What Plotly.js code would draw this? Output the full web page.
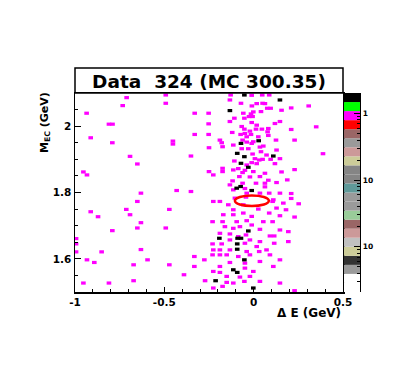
<!DOCTYPE html>
<html>
<head>
<meta charset="utf-8">
<script src="https://cdn.plot.ly/plotly-3.0.1.min.js"></script>
<style>html,body{margin:0;padding:0;background:#fff}</style>
</head>
<body>
<div id="chart" style="width:415px;height:388px"></div>
<script>
// bins with one entry (magenta): Delta E (GeV), M_EC (GeV)
const deltaE1 = [
  -0.711, -0.492, -0.492, -0.733, -0.935, -0.81, -0.79, -0.912, -0.791, -0.452,
  -0.452, -0.692, -0.651, -0.953, -0.933, -0.631, -0.431, -0.651, -0.912, -0.871,
  -0.713, -0.692, -0.472, -0.631, -0.651, -0.492, -0.791, -0.994, -0.994, -0.994,
  -0.851, -0.631, -0.933, -0.892, -0.672, -0.594, -0.472, -0.953, -0.81, -0.672,
  -0.129, 0.048, 0.087, -0.133, -0.071, -0.01, 0.05, 0.095, 0.076, -0.33,
  -0.252, -0.058, -0.015, 0.041, -0.026, -0.006, -0.252, -0.133, -0.108, -0.052,
  -0.011, 0.147, -0.067, -0.052, 0.013, 0.046, 0.078, -0.33, -0.252, -0.12,
  -0.073, -0.015, 0.026, -0.039, -0.189, -0.179, -0.062, -0.002, 0.125, -0.25,
  -0.174, -0.114, -0.011, 0.054, 0.128, -0.351, -0.006, 0.041, 0.072, 0.095,
  -0.108, -0.174, -0.174, -0.25, -0.226, -0.039, -0.011, 0.031, 0.05, -0.114,
  -0.062, -0.002, 0.063, 0.035, -0.08, -0.118, -0.062, -0.133, 0.013, 0.063,
  0.128, 0.188, -0.351, -0.114, -0.039, 0.035, 0.087, 0.147, -0.226, -0.189,
  -0.105, -0.043, 0.106, 0.166, -0.142, -0.114, -0.058, 0.026, 0.11, 0.128,
  0.181, -0.17, -0.114, -0.058, -0.011, 0.087, 0.147, -0.23, -0.174, -0.095,
  -0.039, 0.054, 0.106, -0.161, -0.114, -0.077, -0.011, 0.035, 0.147, -0.189,
  -0.133, -0.086, -0.043, 0.091, 0.115, 0.194, -0.133, -0.021, 0.035, 0.115,
  -0.23, -0.179, -0.049, 0.017, 0.194, -0.226, -0.189, -0.133, -0.039, 0.031,
  0.072, -0.23, -0.189, -0.151, -0.086, -0.021, 0.091, -0.332, -0.276, -0.133,
  -0.049, 0.035, 0.147, -0.332, -0.189, -0.226, -0.049, -0.002, 0.11, -0.39,
  -0.189, -0.151, -0.077, -0.021, -0.272, -0.151, -0.114, -0.052, 0.035, 0.147,
  -0.174, -0.226,
  0.21, 0.308, 0.35, 0.21, 0.229, 0.388, 0.229, 0.21, 0.21, 0.252,
  0.229, 0.229,
  -0.011, 0.017, 0.063, -0.002, 0.156, 0.017, -0.021, 0.082, 0.119, -0.049,
  -0.039, 0.082, -0.067, -0.03, 0.035, 0.007, 0.147, 0.017, -0.086, -0.049,
  0.119, -0.021, 0.082, 0.156, -0.049, 0.063
];
const mbc1 = [
  2.086, 2.094, 2.069, 2.062, 2.039, 2.006, 2.006, 1.965, 1.95, 1.955,
  1.946, 1.909, 1.886, 1.862, 1.853, 1.798, 1.806, 1.773, 1.742, 1.727,
  1.749, 1.733, 1.749, 1.709, 1.693, 1.693, 1.685, 1.661, 1.645, 1.621,
  1.621, 1.628, 1.597, 1.589, 1.582, 1.597, 1.582, 1.527, 1.527, 1.534,
  2.094, 2.094, 2.094, 2.079, 2.069, 2.061, 2.069, 2.054, 2.054, 2.039,
  2.039, 2.039, 2.037, 2.044, 2.029, 2.029, 2.007, 2.014, 2.024, 2.024,
  2.011, 2.014, 1.999, 1.991, 1.991, 1.991, 1.983, 1.975, 1.975, 1.981,
  1.975, 1.975, 1.968, 1.968, 1.958, 1.95, 1.958, 1.953, 1.958, 1.935,
  1.938, 1.943, 1.948, 1.94, 1.928, 1.91, 1.916, 1.923, 1.913, 1.9,
  1.895, 1.873, 1.863, 1.863, 1.853, 1.883, 1.89, 1.898, 1.9, 1.868,
  1.86, 1.863, 1.858, 1.848, 1.848, 1.835, 1.828, 1.823, 1.828, 1.828,
  1.83, 1.838, 1.803, 1.808, 1.798, 1.798, 1.798, 1.798, 1.773, 1.773,
  1.783, 1.786, 1.773, 1.768, 1.763, 1.748, 1.763, 1.75, 1.778, 1.753,
  1.748, 1.733, 1.733, 1.738, 1.728, 1.738, 1.73, 1.712, 1.712, 1.712,
  1.715, 1.712, 1.712, 1.697, 1.692, 1.697, 1.702, 1.689, 1.687, 1.677,
  1.675, 1.667, 1.672, 1.669, 1.669, 1.682, 1.657, 1.657, 1.652, 1.647,
  1.645, 1.645, 1.647, 1.637, 1.652, 1.627, 1.627, 1.627, 1.622, 1.622,
  1.627, 1.612, 1.612, 1.612, 1.607, 1.612, 1.612, 1.607, 1.597, 1.589,
  1.587, 1.592, 1.597, 1.577, 1.577, 1.562, 1.572, 1.562, 1.577, 1.552,
  1.559, 1.547, 1.545, 1.547, 1.534, 1.529, 1.527, 1.532, 1.532, 1.527,
  1.517, 1.512,
  2.055, 2.061, 1.998, 1.99, 1.958, 1.917, 1.869, 1.797, 1.782, 1.766,
  1.726, 1.504,
  2.093, 2.068, 2.068, 2.043, 2.048, 2.003, 1.985, 1.993, 2.008, 1.978,
  1.952, 1.972, 1.932, 1.932, 1.937, 1.902, 1.902, 1.887, 1.872, 1.867,
  1.887, 1.847, 1.837, 1.862, 1.812, 1.817
];

// bins with more entries (black)
const deltaE2 = [
  -0.052, 0.147, -0.133, 0.028, -0.071, -0.092, -0.052, 0.11, -0.071, -0.03,
  -0.095, -0.073, -0.011, -0.03, -0.192, -0.09, -0.071, -0.092, -0.092, -0.052,
  -0.114, -0.092, -0.213, -0.002
];
const mbc2 = [
  2.094, 2.079, 2.047, 1.956, 1.948, 1.918, 1.908, 1.91, 1.888, 1.876,
  1.813, 1.818, 1.806, 1.684, 1.662, 1.662, 1.662, 1.645, 1.629, 1.597,
  1.567, 1.559, 1.534, 1.512
];

// signal box drawn as an ellipse
const sigDE = [-0.105, 0.085];
const sigMbc = [1.759, 1.791];

const xTickVals = [-1, -0.5, 0, 0.5];
const xTickText = ['-1', '-0.5', '0', '0.5'];
const yTickVals = [1.6, 1.8, 2];
const yTickText = ['1.6', '1.8', '2'];

// z palette, top to bottom, and its (log) labels
const zPalette = [
  '#000000', '#00ff00', '#ff00ff', '#ff0000', '#9a6666', '#9a9a9a', '#cc9999', '#cccc99',
  '#858585', '#858585', '#5f9999', '#9a9a9a', '#9a9a9a', '#99cc99', '#9a6666', '#cc9999',
  '#c0c0c0', '#cccc99', '#333333', '#9a9a9a', '#ffffff', '#ffffff'
];
const zTickVals = [0.01, 0.1, 1];
const zTickText = ['10', '10', '1'];
const zRange = [-2.679, 0.308];   // log10 units

const boldFont = 'DejaVu Sans';
const plotW = 285, plotH = 199;   // px of the plotting area (incl. z bar)
const mainFrac = 268 / plotW;

// colour bar segments (bottom to top)
const segs = zPalette.slice().reverse();
const step = (zRange[1] - zRange[0]) / segs.length;
const zMinor = [];
for (let d = -3; d <= 0; d++) {
  for (let k = 2; k <= 9; k++) {
    const v = Math.log10(k * Math.pow(10, d));
    if (v > zRange[0] && v < zRange[1]) zMinor.push(v);
  }
}

const traces = [
  {
    x: deltaE1, y: mbc1, type: 'scatter', mode: 'markers', hoverinfo: 'skip',
    marker: { symbol: 'line-ew', size: 3.3, color: '#ff00ff', line: { color: '#ff00ff', width: 3.2 } }
  },
  {
    x: deltaE2, y: mbc2, type: 'scatter', mode: 'markers', hoverinfo: 'skip',
    marker: { symbol: 'line-ew', size: 3.3, color: '#000000', line: { color: '#000000', width: 3.2 } }
  },
  {
    x: segs.map(() => 0.5), y: segs.map(() => step), base: segs.map((c, i) => zRange[0] + i * step),
    width: 1, type: 'bar', marker: { color: segs, line: { width: 0 } },
    xaxis: 'x2', yaxis: 'y2', hoverinfo: 'skip'
  }
];

const layout = {
  width: 415, height: 388,
  margin: { l: 75, r: 55, t: 93, b: 96 },
  paper_bgcolor: '#fff', plot_bgcolor: 'rgba(0,0,0,0)',
  showlegend: false,
  font: { family: boldFont, color: '#000' },
  title: {
    text: 'Data\u00a0 324 (MC 300.35)',
    font: { family: boldFont, size: 18.5, weight: 'bold', color: '#000' },
    xref: 'container', yref: 'container',
    x: 209 / 415, xanchor: 'center', y: 1 - 81.5 / 388, yanchor: 'middle'
  },
  xaxis: {
    domain: [0, mainFrac], range: [-1, 0.5], anchor: 'y',
    tickmode: 'array', tickvals: xTickVals, ticktext: xTickText,
    ticks: 'inside', ticklen: 5, tickwidth: 1.3, tickcolor: '#000',
    minor: { tickmode: 'linear', tick0: 0, dtick: 0.1, ticks: 'inside', ticklen: 3, tickwidth: 1, tickcolor: '#000' },
    showline: true, linewidth: 1.5, linecolor: '#000', mirror: true,
    showgrid: false, zeroline: false,
    tickfont: { family: boldFont, size: 10.5, weight: 'bold' }
  },
  yaxis: {
    domain: [0, 1], range: [1.5, 2.1], anchor: 'x',
    tickmode: 'array', tickvals: yTickVals, ticktext: yTickText,
    ticks: 'inside', ticklen: 6, tickwidth: 1.3, tickcolor: '#000',
    minor: { tickmode: 'linear', tick0: 1.5, dtick: 0.05, ticks: 'inside', ticklen: 3, tickwidth: 1, tickcolor: '#000' },
    showline: true, linewidth: 1.5, linecolor: '#000', mirror: true,
    showgrid: false, zeroline: false,
    tickfont: { family: boldFont, size: 10.5, weight: 'bold' }
  },
  xaxis2: { domain: [269 / plotW, 1], range: [0, 1], anchor: 'y2', visible: false, fixedrange: true },
  yaxis2: {
    domain: [0, 1], range: zRange, anchor: 'x2', side: 'right',
    tickmode: 'array', tickvals: zTickVals.map(Math.log10), ticktext: zTickText,
    ticks: 'inside', ticklen: 6, tickwidth: 1.2, tickcolor: '#000',
    minor: { tickmode: 'array', tickvals: zMinor, ticks: 'inside', ticklen: 3, tickwidth: 1, tickcolor: '#000' },
    showline: true, linewidth: 1.3, linecolor: '#000',
    showgrid: false, zeroline: false,
    tickfont: { family: boldFont, size: 7.5, weight: 'bold' }
  },
  shapes: [
    {
      type: 'rect', xref: 'paper', yref: 'paper', x0: 0, x1: mainFrac, y0: 1, y1: 1 + 25 / plotH,
      line: { color: '#000', width: 1.5 }
    },
    {
      type: 'circle', xref: 'x', yref: 'y', x0: sigDE[0], x1: sigDE[1], y0: sigMbc[0], y1: sigMbc[1],
      line: { color: '#ff0000', width: 2.5 }
    }
  ],
  annotations: [
    {
      text: 'M<sub>EC</sub> (GeV)', textangle: -90, showarrow: false,
      xref: 'paper', yref: 'paper', x: -30 / plotW, y: (292 - 123) / plotH,
      xanchor: 'center', yanchor: 'middle',
      font: { family: boldFont, size: 11, weight: 'bold', color: '#000' }
    },
    {
      text: '\u0394 E (GeV)', showarrow: false,
      xref: 'paper', yref: 'paper', x: mainFrac, y: -21 / plotH,
      xanchor: 'right', yanchor: 'middle',
      font: { family: boldFont, size: 12, weight: 'bold', color: '#000' }
    }
  ]
};

Plotly.newPlot('chart', traces, layout, { staticPlot: true, displayModeBar: false });
</script>
</body>
</html>
